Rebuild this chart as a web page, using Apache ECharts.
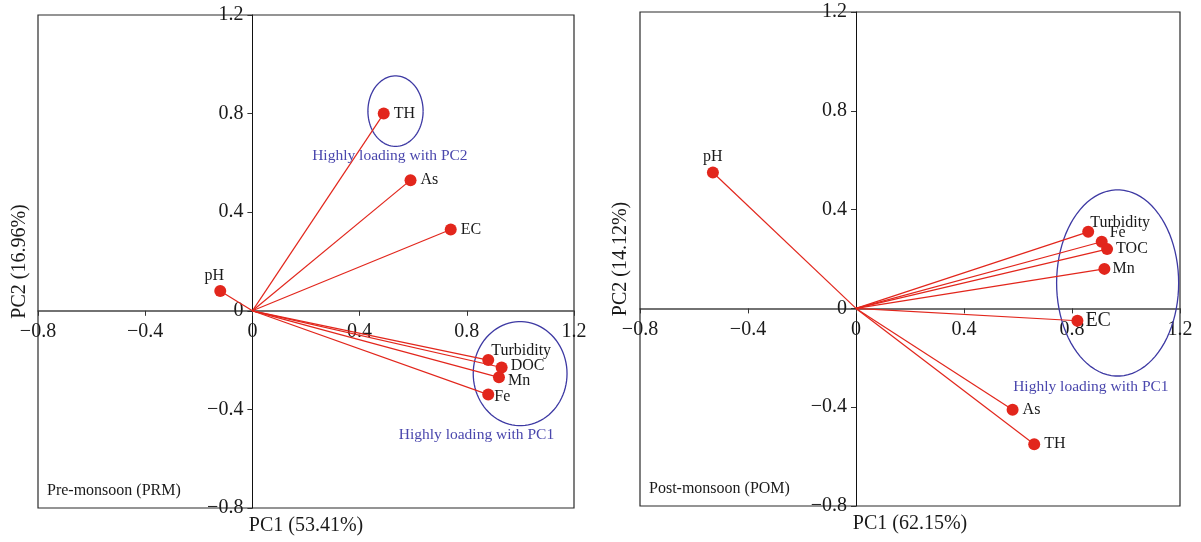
<!DOCTYPE html>
<html>
<head>
<meta charset="utf-8">
<script src="https://cdn.jsdelivr.net/npm/echarts@6/dist/echarts.min.js"></script>
<style>html,body{margin:0;padding:0;background:#fff}#chart{width:1201px;height:542px}</style>
</head>
<body>
<div id="chart"></div>
<script>
"use strict"
// loadings
var preNames = ['TH', 'As', 'EC', 'pH', 'Turbidity', 'DOC', 'Mn', 'Fe'];
var prePC1 = [0.49, 0.59, 0.74, -0.12, 0.88, 0.93, 0.92, 0.88];
var prePC2 = [0.80, 0.53, 0.33, 0.08, -0.20, -0.23, -0.27, -0.34];

var postNames = ['pH', 'Turbidity', 'Fe', 'TOC', 'Mn', 'EC', 'As', 'TH'];
var postPC1 = [-0.53, 0.86, 0.91, 0.93, 0.92, 0.82, 0.58, 0.66];
var postPC2 = [0.55, 0.31, 0.27, 0.24, 0.16, -0.05, -0.41, -0.55];

var axisTicks = [-0.8, -0.4, 0, 0.4, 0.8, 1.2];

// circled groups (centre x, centre y, radius x, radius y) and their notes
var preGroups = [[0.534, 0.81, 0.103, 0.143], [0.999, -0.255, 0.175, 0.211]];
var preNotes = ['Highly loading with PC2', 'Highly loading with PC1'];
var preNoteX = [0.513, 0.836];
var preNoteY = [0.63, -0.504];

var postGroups = [[0.969, 0.103, 0.226, 0.377]];
var postNotes = ['Highly loading with PC1'];
var postNoteX = [0.87];
var postNoteY = [-0.316];

var FONT = '"Liberation Serif", "DejaVu Serif", serif';
var RED = '#e2261c';
var BLUE = '#3d39a3';

var grids = [
    {left: 38, top: 15, width: 536, height: 493},
    {left: 640, top: 12, width: 540, height: 494}
];

// per-label nudges so the names sit where they do in the figure
var preLabel = {
    pH: {position: 'top', offset: [-6, 3]},
    Turbidity: {offset: [-7, -9]},
    DOC: {offset: [-1, -2]},
    Mn: {offset: [-1, 3]},
    Fe: {offset: [-4, 2]}
};
var postLabel = {
    pH: {position: 'top', offset: [0, 2]},
    Turbidity: {offset: [-8, -9]},
    Fe: {offset: [-2, -9]},
    TOC: {offset: [-1, 0]},
    Mn: {offset: [-2, 0]},
    EC: {offset: [-2, 0], fontSize: 20}
};

var axMin = axisTicks[0], axMax = axisTicks[axisTicks.length - 1];
// where zero sits along an axis, as a fraction of its length
var zeroFrac = (0 - axMin) / (axMax - axMin);

function tickFmt(v) {
    if (Math.abs(v) < 1e-9) return '0';
    var s = Math.abs(v).toFixed(1);
    return v < 0 ? '\u2212' + s : s;
}

function mainX(g) {
    return {
        gridIndex: g, type: 'value', position: 'bottom',
        offset: -zeroFrac * grids[g].height,
        min: axMin, max: axMax, interval: 0.4,
        axisLine: {onZero: false, lineStyle: {color: '#444', width: 1.5}},
        axisTick: {show: true, length: 5, lineStyle: {color: '#333'}},
        axisLabel: {formatter: tickFmt, margin: 11, color: '#1a1a1a', fontSize: 20, fontFamily: FONT},
        splitLine: {show: false}
    };
}
function nameX(g, name) {
    return {
        gridIndex: g, type: 'value', position: 'bottom',
        min: axMin, max: axMax,
        axisLine: {show: false, onZero: false}, axisTick: {show: false},
        axisLabel: {show: false}, splitLine: {show: false},
        name: name, nameLocation: 'middle', nameGap: 8,
        nameTextStyle: {fontSize: 20, color: '#1a1a1a', fontFamily: FONT}
    };
}
function mainY(g) {
    return {
        gridIndex: g, type: 'value', position: 'left',
        offset: -zeroFrac * grids[g].width,
        min: axMin, max: axMax, interval: 0.4,
        axisLine: {onZero: false, lineStyle: {color: '#111', width: 1}},
        axisTick: {show: true, length: 5, lineStyle: {color: '#333'}},
        axisLabel: {formatter: tickFmt, margin: 9, color: '#1a1a1a', fontSize: 20, fontFamily: FONT},
        splitLine: {show: false}
    };
}
function nameY(g, name, gap) {
    return {
        gridIndex: g, type: 'value', position: 'left',
        min: axMin, max: axMax,
        axisLine: {show: false, onZero: false}, axisTick: {show: false},
        axisLabel: {show: false}, splitLine: {show: false},
        name: name, nameLocation: 'middle', nameGap: gap,
        nameTextStyle: {fontSize: 20, color: '#1a1a1a', fontFamily: FONT}
    };
}

function pointData(names, xs, ys, tweaks) {
    var res = [];
    for (var i = 0; i < names.length; i++) {
        var t = tweaks[names[i]] || {};
        res.push({
            name: names[i],
            value: [xs[i], ys[i]],
            label: {
                position: t.position || 'right',
                offset: t.offset || [0, 0],
                fontSize: t.fontSize || 16
            }
        });
    }
    return res;
}

function vectorSeries(xi, yi, xs, ys) {
    var d = [];
    for (var i = 0; i < xs.length; i++) d.push([xs[i], ys[i]]);
    return {
        type: 'custom', xAxisIndex: xi, yAxisIndex: yi, data: d, clip: false, z: 2,
        encode: {x: 0, y: 1},
        renderItem: function (params, api) {
            var o = api.coord([0, 0]);
            var p = api.coord([api.value(0), api.value(1)]);
            return {
                type: 'line',
                shape: {x1: o[0], y1: o[1], x2: p[0], y2: p[1]},
                style: {stroke: RED, lineWidth: 1.2}
            };
        }
    };
}

function pointSeries(xi, yi, names, xs, ys, tweaks) {
    return {
        type: 'scatter', xAxisIndex: xi, yAxisIndex: yi, z: 3,
        symbolSize: 12,
        itemStyle: {color: RED, opacity: 1},
        label: {show: true, formatter: '{b}', distance: 4, color: '#1a1a1a', fontFamily: FONT},
        data: pointData(names, xs, ys, tweaks)
    };
}

function groupSeries(xi, yi, groups) {
    return {
        type: 'custom', xAxisIndex: xi, yAxisIndex: yi, data: groups, clip: false, z: 1,
        encode: {x: 0, y: 1},
        renderItem: function (params, api) {
            var cx = api.value(0), cy = api.value(1), rx = api.value(2), ry = api.value(3);
            var pts = [];
            for (var k = 0; k <= 90; k++) {
                var a = k / 90 * Math.PI * 2;
                pts.push(api.coord([cx + rx * Math.cos(a), cy + ry * Math.sin(a)]));
            }
            return {
                type: 'polyline',
                shape: {points: pts},
                style: {stroke: BLUE, lineWidth: 1.3, fill: null}
            };
        }
    };
}

function noteSeries(xi, yi, notes, nx, ny) {
    var d = [];
    for (var i = 0; i < notes.length; i++) d.push([nx[i], ny[i], notes[i]]);
    return {
        type: 'custom', xAxisIndex: xi, yAxisIndex: yi, data: d, clip: false, z: 4,
        encode: {x: 0, y: 1},
        renderItem: function (params, api) {
            var p = api.coord([api.value(0), api.value(1)]);
            return {
                type: 'text', x: p[0], y: p[1],
                style: {
                    text: d[params.dataIndex][2], align: 'center', verticalAlign: 'middle',
                    fill: '#4a47ad', fontSize: 15.5, fontFamily: FONT
                }
            };
        }
    };
}

function gridOpt(g) {
    return {
        left: g.left, top: g.top, width: g.width, height: g.height,
        show: true, borderColor: '#2a2a2a', borderWidth: 1.2, backgroundColor: 'transparent'
    };
}

var option = {
    backgroundColor: '#fff',
    animation: false,
    title: [
        {text: 'Pre-monsoon (PRM)', left: 47, top: 483, padding: 0,
         textStyle: {fontSize: 16, fontWeight: 'normal', color: '#1a1a1a', fontFamily: FONT}},
        {text: 'Post-monsoon (POM)', left: 649, top: 481, padding: 0,
         textStyle: {fontSize: 16, fontWeight: 'normal', color: '#1a1a1a', fontFamily: FONT}}
    ],
    grid: [gridOpt(grids[0]), gridOpt(grids[1])],
    xAxis: [mainX(0), nameX(0, 'PC1 (53.41%)'), mainX(1), nameX(1, 'PC1 (62.15%)')],
    yAxis: [mainY(0), nameY(0, 'PC2 (16.96%)', 8), mainY(1), nameY(1, 'PC2 (14.12%)', 9)],
    series: [
        groupSeries(0, 0, preGroups),
        vectorSeries(0, 0, prePC1, prePC2),
        pointSeries(0, 0, preNames, prePC1, prePC2, preLabel),
        noteSeries(0, 0, preNotes, preNoteX, preNoteY),
        groupSeries(2, 2, postGroups),
        vectorSeries(2, 2, postPC1, postPC2),
        pointSeries(2, 2, postNames, postPC1, postPC2, postLabel),
        noteSeries(2, 2, postNotes, postNoteX, postNoteY)
    ]
};

var chart = echarts.init(document.getElementById('chart'));
chart.setOption(option);
</script>
</body>
</html>
